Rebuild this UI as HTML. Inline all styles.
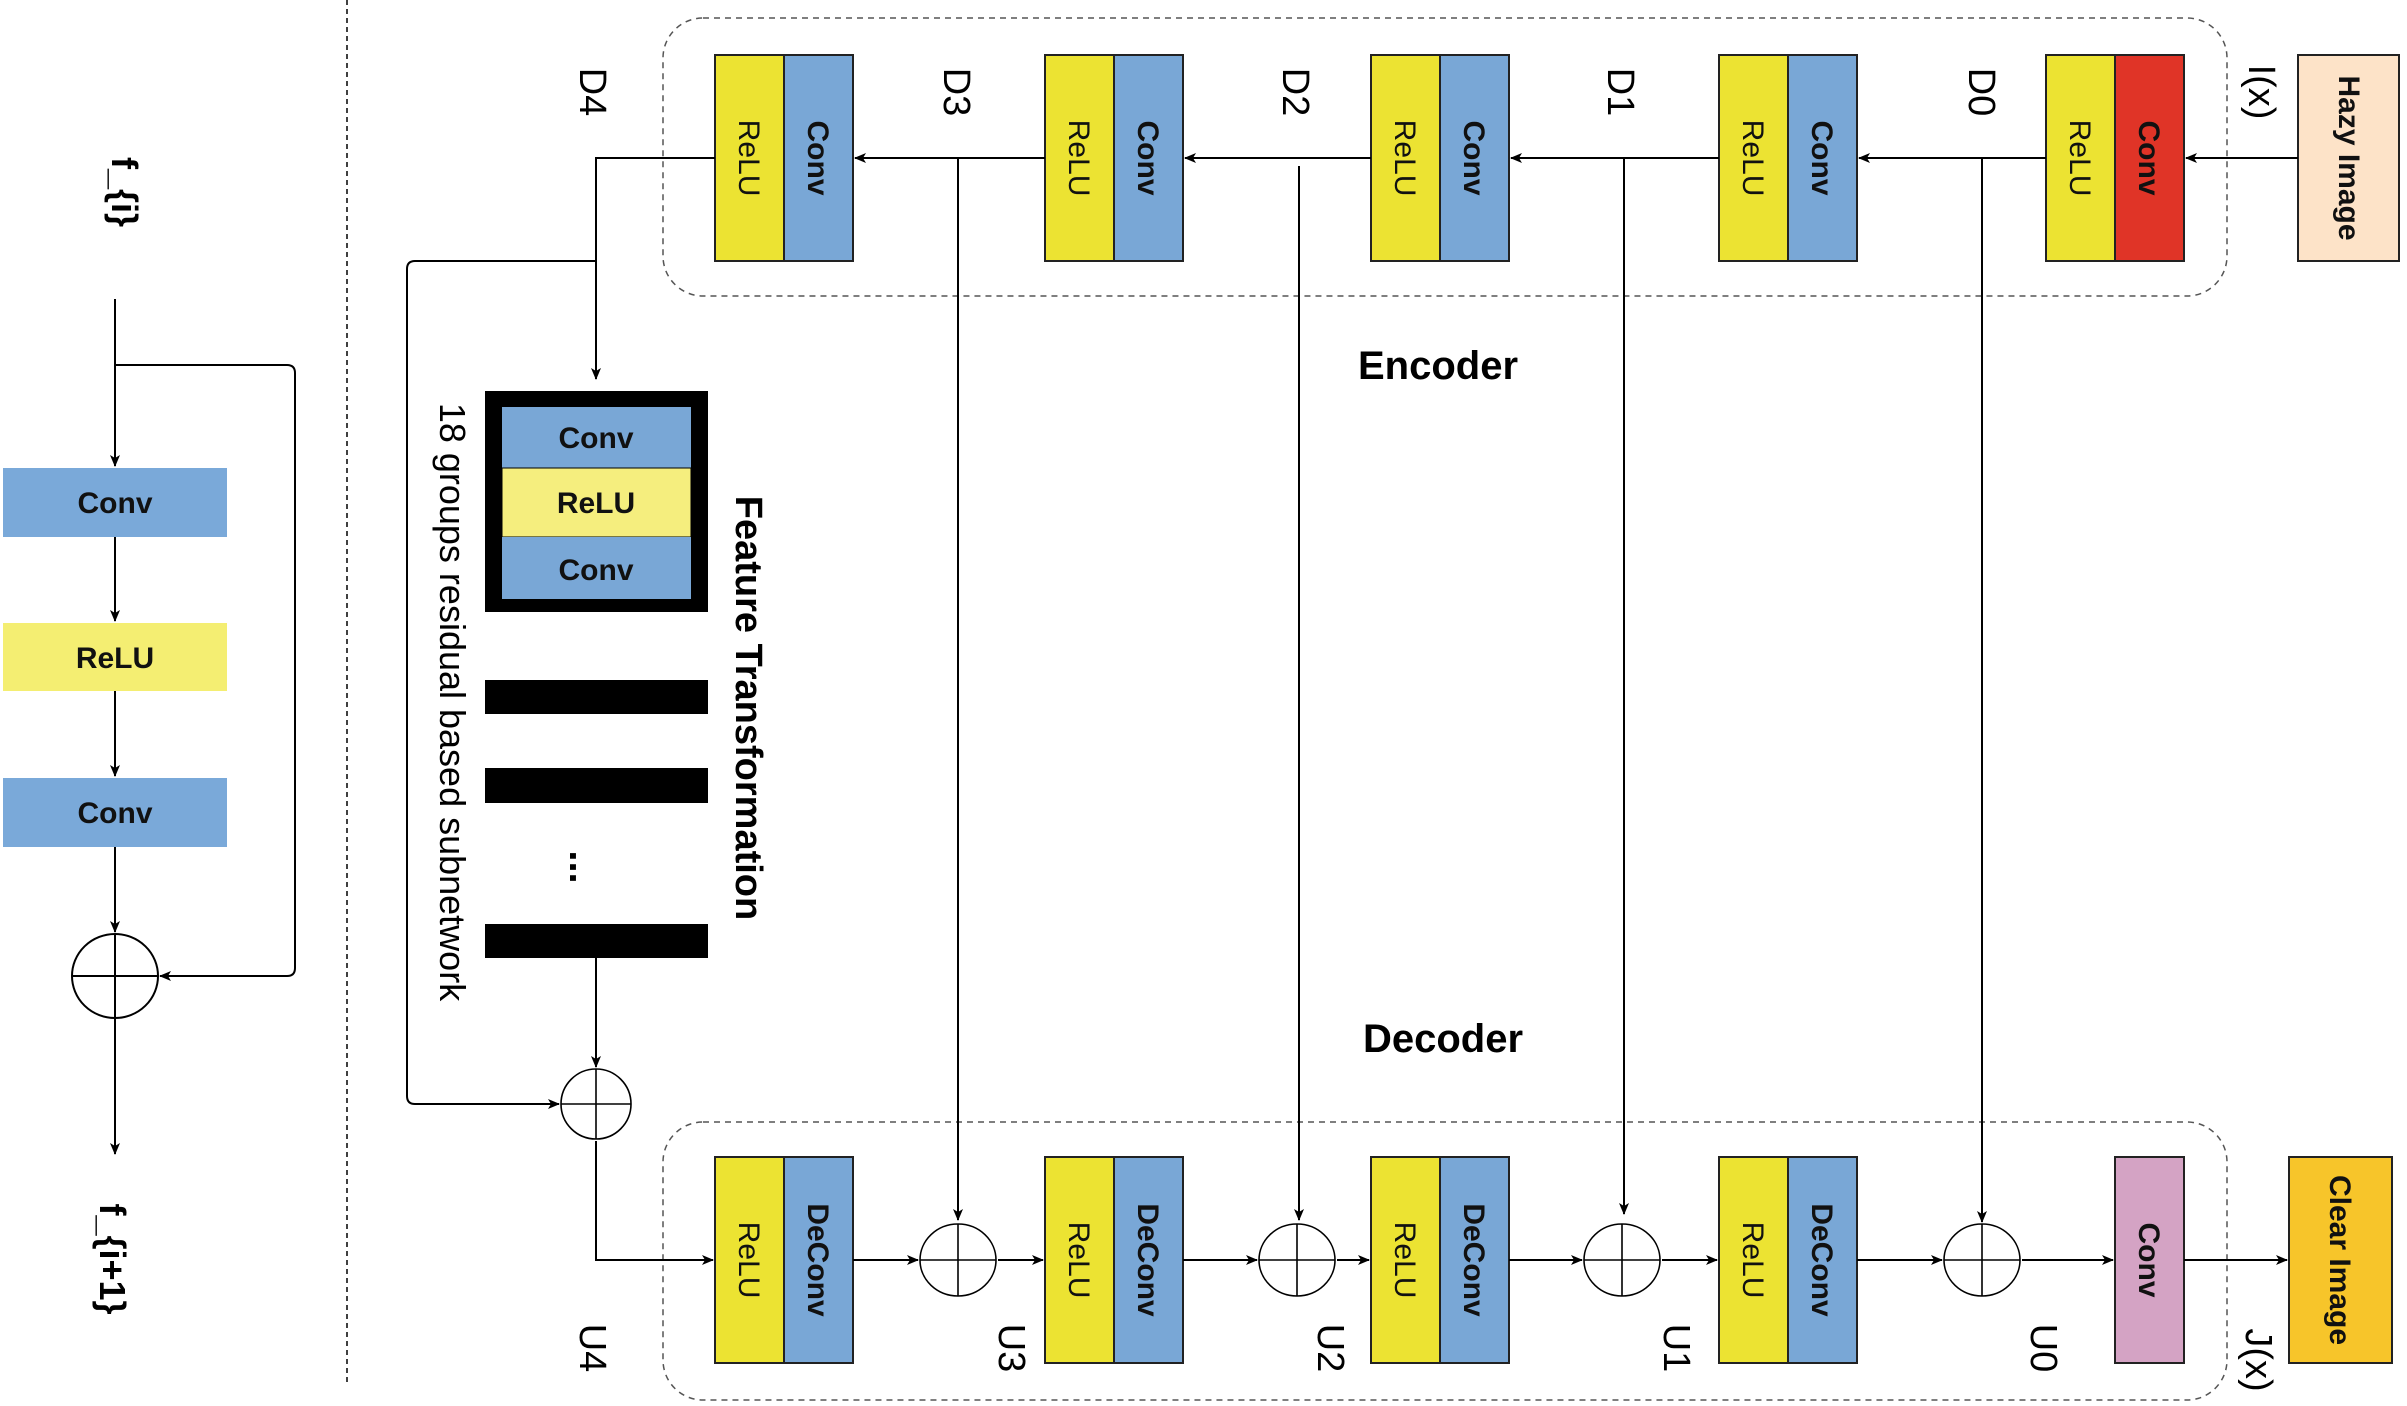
<!DOCTYPE html>
<html><head><meta charset="utf-8"><style>html,body{margin:0;padding:0;background:#fff}svg{display:block}text{font-family:"Liberation Sans",sans-serif}</style></head><body>
<svg width="2407" height="1406" viewBox="0 0 2407 1406" xmlns="http://www.w3.org/2000/svg">
<defs><marker id="a" markerWidth="12" markerHeight="10" refX="11" refY="5" orient="auto" markerUnits="userSpaceOnUse"><path d="M0,0 L12,5 L0,10 L3,5 z" fill="#000"/></marker></defs>
<g fill="none" stroke="#000" stroke-width="2">
<line x1="347" y1="0" x2="347" y2="1382" stroke-dasharray="5,4" stroke-width="1.5"/>
<rect x="663" y="18" width="1564" height="278" rx="40" stroke-dasharray="6,5" stroke-width="1.5" stroke="#555"/>
<rect x="663" y="1122" width="1564" height="278" rx="40" stroke-dasharray="6,5" stroke-width="1.5" stroke="#555"/>
<line x1="115" y1="299" x2="115" y2="466" marker-end="url(#a)"/>
<path d="M115 365 H287 Q295 365 295 373 V968 Q295 976 287 976 H160" marker-end="url(#a)"/>
<line x1="115" y1="537" x2="115" y2="621" marker-end="url(#a)"/>
<line x1="115" y1="691" x2="115" y2="776" marker-end="url(#a)"/>
<line x1="115" y1="847" x2="115" y2="932" marker-end="url(#a)"/>
<line x1="115" y1="1019" x2="115" y2="1154" marker-end="url(#a)"/>
</g>
<rect x="3" y="468" width="224" height="69" fill="#7aa9d9"/>
<rect x="3" y="623" width="224" height="68" fill="#f4ee72"/>
<rect x="3" y="778" width="224" height="69" fill="#7aa9d9"/>
<g font-weight="bold" font-size="30" text-anchor="middle" fill="#111">
<text x="115" y="513">Conv</text><text x="115" y="668">ReLU</text><text x="115" y="823">Conv</text></g>
<g fill="none" stroke="#000" stroke-width="2">
<ellipse cx="115" cy="976" rx="43" ry="42"/><line x1="72" y1="976" x2="158" y2="976"/><line x1="115" y1="934" x2="115" y2="1018"/>
</g>
<text transform="translate(112,192) rotate(90)" font-size="36" font-weight="bold" text-anchor="middle">f_{i}</text>
<text transform="translate(100,1259) rotate(90)" font-size="36" font-weight="bold" text-anchor="middle">f_{i+1}</text>

<g stroke="#222" stroke-width="2">
<rect x="715" y="55" width="69" height="206" fill="#ece332"/><rect x="784" y="55" width="69" height="206" fill="#79a7d6"/>
<rect x="1045" y="55" width="69" height="206" fill="#ece332"/><rect x="1114" y="55" width="69" height="206" fill="#79a7d6"/>
<rect x="1371" y="55" width="69" height="206" fill="#ece332"/><rect x="1440" y="55" width="69" height="206" fill="#79a7d6"/>
<rect x="1719" y="55" width="69" height="206" fill="#ece332"/><rect x="1788" y="55" width="69" height="206" fill="#79a7d6"/>
<rect x="2046" y="55" width="69" height="206" fill="#ece332"/><rect x="2115" y="55" width="69" height="206" fill="#e03427"/>
<rect x="2298" y="55" width="101" height="206" fill="#fde3c8"/>
<rect x="715" y="1157" width="69" height="206" fill="#ece332"/><rect x="784" y="1157" width="69" height="206" fill="#79a7d6"/>
<rect x="1045" y="1157" width="69" height="206" fill="#ece332"/><rect x="1114" y="1157" width="69" height="206" fill="#79a7d6"/>
<rect x="1371" y="1157" width="69" height="206" fill="#ece332"/><rect x="1440" y="1157" width="69" height="206" fill="#79a7d6"/>
<rect x="1719" y="1157" width="69" height="206" fill="#ece332"/><rect x="1788" y="1157" width="69" height="206" fill="#79a7d6"/>
<rect x="2115" y="1157" width="69" height="206" fill="#d4a3c4"/>
<rect x="2289" y="1157" width="103" height="206" fill="#f7c52a"/>
</g>
<g font-size="30" fill="#111" text-anchor="middle">
<text transform="translate(739,158) rotate(90)">ReLU</text>
<text transform="translate(1069,158) rotate(90)">ReLU</text>
<text transform="translate(1395,158) rotate(90)">ReLU</text>
<text transform="translate(1743,158) rotate(90)">ReLU</text>
<text transform="translate(2070,158) rotate(90)">ReLU</text>
<text transform="translate(739,1260) rotate(90)">ReLU</text>
<text transform="translate(1069,1260) rotate(90)">ReLU</text>
<text transform="translate(1395,1260) rotate(90)">ReLU</text>
<text transform="translate(1743,1260) rotate(90)">ReLU</text>
<g font-weight="bold">
<text transform="translate(808,158) rotate(90)">Conv</text>
<text transform="translate(1138,158) rotate(90)">Conv</text>
<text transform="translate(1464,158) rotate(90)">Conv</text>
<text transform="translate(1812,158) rotate(90)">Conv</text>
<text transform="translate(2139,158) rotate(90)">Conv</text>
<text transform="translate(2339,158) rotate(90)">Hazy Image</text>
<text transform="translate(808,1260) rotate(90)">DeConv</text>
<text transform="translate(1138,1260) rotate(90)">DeConv</text>
<text transform="translate(1464,1260) rotate(90)">DeConv</text>
<text transform="translate(1812,1260) rotate(90)">DeConv</text>
<text transform="translate(2139,1260) rotate(90)">Conv</text>
<text transform="translate(2330,1260) rotate(90)">Clear Image</text>
</g></g>

<g fill="none" stroke="#000" stroke-width="2">
<line x1="2298" y1="158" x2="2186" y2="158" marker-end="url(#a)"/>
<line x1="2046" y1="158" x2="1859" y2="158" marker-end="url(#a)"/>
<line x1="1719" y1="158" x2="1511" y2="158" marker-end="url(#a)"/>
<line x1="1371" y1="158" x2="1185" y2="158" marker-end="url(#a)"/>
<line x1="1045" y1="158" x2="855" y2="158" marker-end="url(#a)"/>
<path d="M715 158 H596 V379" marker-end="url(#a)"/>
<path d="M596 261 H415 Q407 261 407 269 V1096 Q407 1104 415 1104 H559" marker-end="url(#a)"/>
<line x1="596" y1="958" x2="596" y2="1067" marker-end="url(#a)"/>
<path d="M596 1141 V1260 H713" marker-end="url(#a)"/>
<line x1="958" y1="158" x2="958" y2="1220" marker-end="url(#a)"/>
<line x1="1299" y1="166" x2="1299" y2="1220" marker-end="url(#a)"/>
<line x1="1624" y1="158" x2="1624" y2="1214" marker-end="url(#a)"/>
<line x1="1982" y1="158" x2="1982" y2="1222" marker-end="url(#a)"/>
<line x1="853" y1="1260" x2="918" y2="1260" marker-end="url(#a)"/>
<line x1="998" y1="1260" x2="1043" y2="1260" marker-end="url(#a)"/>
<line x1="1183" y1="1260" x2="1257" y2="1260" marker-end="url(#a)"/>
<line x1="1337" y1="1260" x2="1369" y2="1260" marker-end="url(#a)"/>
<line x1="1509" y1="1260" x2="1582" y2="1260" marker-end="url(#a)"/>
<line x1="1662" y1="1260" x2="1717" y2="1260" marker-end="url(#a)"/>
<line x1="1857" y1="1260" x2="1942" y2="1260" marker-end="url(#a)"/>
<line x1="2022" y1="1260" x2="2113" y2="1260" marker-end="url(#a)"/>
<line x1="2184" y1="1260" x2="2287" y2="1260" marker-end="url(#a)"/>
<g stroke-width="1.6">
<ellipse cx="596" cy="1104" rx="35" ry="35"/><line x1="561" y1="1104" x2="631" y2="1104"/><line x1="596" y1="1069" x2="596" y2="1139"/>
<ellipse cx="958" cy="1260" rx="38" ry="36"/><line x1="920" y1="1260" x2="996" y2="1260"/><line x1="958" y1="1224" x2="958" y2="1296"/>
<ellipse cx="1297" cy="1260" rx="38" ry="36"/><line x1="1259" y1="1260" x2="1335" y2="1260"/><line x1="1297" y1="1224" x2="1297" y2="1296"/>
<ellipse cx="1622" cy="1260" rx="38" ry="36"/><line x1="1584" y1="1260" x2="1660" y2="1260"/><line x1="1622" y1="1224" x2="1622" y2="1296"/>
<ellipse cx="1982" cy="1260" rx="38" ry="36"/><line x1="1944" y1="1260" x2="2020" y2="1260"/><line x1="1982" y1="1224" x2="1982" y2="1296"/>
</g></g>

<rect x="485" y="391" width="223" height="221" fill="#000"/>
<rect x="502" y="407" width="189" height="61" fill="#79a7d6"/>
<rect x="502" y="468" width="189" height="69" fill="#f5ee7e" stroke="#000" stroke-width="1"/>
<rect x="502" y="537" width="189" height="62" fill="#79a7d6"/>
<g font-weight="bold" font-size="30" text-anchor="middle" fill="#111">
<text x="596" y="448">Conv</text><text x="596" y="513">ReLU</text><text x="596" y="580">Conv</text></g>
<rect x="485" y="680" width="223" height="34" fill="#000"/>
<rect x="485" y="768" width="223" height="35" fill="#000"/>
<rect x="485" y="924" width="223" height="34" fill="#000"/>
<text transform="translate(570,867) rotate(90)" font-size="40" font-weight="bold" text-anchor="middle">...</text>
<text transform="translate(736,708) rotate(90)" font-size="38" font-weight="bold" text-anchor="middle">Feature Transformation</text>
<text transform="translate(440,702) rotate(90)" font-size="36" text-anchor="middle">18 groups residual based subnetwork</text>

<g font-size="40" font-weight="bold" text-anchor="middle">
<text x="1438" y="379">Encoder</text><text x="1443" y="1052">Decoder</text></g>
<g font-size="38" text-anchor="middle">
<text transform="translate(580,92) rotate(90)">D4</text>
<text transform="translate(944,92) rotate(90)">D3</text>
<text transform="translate(1283,92) rotate(90)">D2</text>
<text transform="translate(1608,92) rotate(90)">D1</text>
<text transform="translate(1969,92) rotate(90)">D0</text>
<text transform="translate(2249,92) rotate(90)">I(x)</text>
<text transform="translate(580,1348) rotate(90)">U4</text>
<text transform="translate(999,1348) rotate(90)">U3</text>
<text transform="translate(1318,1348) rotate(90)">U2</text>
<text transform="translate(1664,1348) rotate(90)">U1</text>
<text transform="translate(2031,1348) rotate(90)">U0</text>
<text transform="translate(2246,1360) rotate(90)">J(x)</text>
</g>
</svg>
</body></html>
